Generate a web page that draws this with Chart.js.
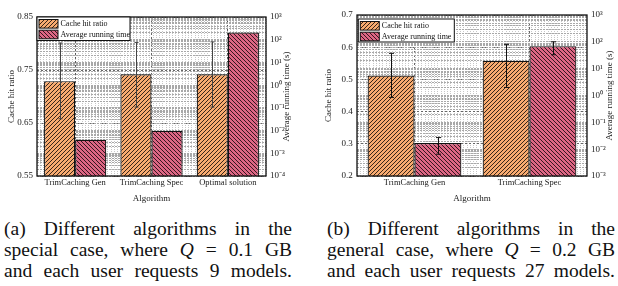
<!DOCTYPE html>
<html><head><meta charset="utf-8">
<script src="https://cdn.jsdelivr.net/npm/chart.js@4.4.1/dist/chart.umd.min.js"></script>
<style>
html,body{margin:0;padding:0;background:#fff;}
body{width:618px;height:286px;position:relative;overflow:hidden;font-family:'Liberation Serif',serif;}
canvas{position:absolute;top:0;}
#ca{left:0}
#cb{left:309px}
.cap{position:absolute;top:218px;width:288px;font-family:'Liberation Serif',serif;font-size:19.5px;line-height:21px;color:#111;}
.cap div{text-align:justify;text-align-last:justify;white-space:nowrap;}
#capA{left:4px}
#capB{left:327px}
</style>
</head><body>
<canvas id="ca" width="309" height="210"></canvas>
<canvas id="cb" width="309" height="210"></canvas>
<div class="cap" id="capA"><div>(a) Different algorithms in the</div><div>special case, where <i>Q</i> = 0.1 GB</div><div>and each user requests 9 models.</div></div>
<div class="cap" id="capB"><div>(b) Different algorithms in the</div><div>general case, where <i>Q</i> = 0.2 GB</div><div>and each user requests 27 models.</div></div>
<script>
// ---------- data ----------
const seriesLabels = ["Cache hit ratio", "Average running time"];
const xTitle = "Algorithm";
const leftTitle = "Cache hit ratio";
const rightTitle = "Average running time (s)";

const catsA = ["TrimCaching Gen", "TrimCaching Spec", "Optimal solution"];
const hitA = [0.729, 0.742, 0.742];
const hitLoA = [0.658, 0.680, 0.680];
const hitHiA = [0.801, 0.802, 0.803];
const timeA = [0.0039, 0.0097, 209];
const leftTicksA = [0.55, 0.65, 0.75, 0.85];
const logExpA = [-4, 3];

const catsB = ["TrimCaching Gen", "TrimCaching Spec"];
const hitB = [0.512, 0.558];
const hitLoB = [0.444, 0.475];
const hitHiB = [0.581, 0.609];
const timeB = [0.017, 69];
const timeLoB = [0.0065, 33];
const timeHiB = [0.027, 100];
const leftTicksB = [0.2, 0.3, 0.4, 0.5, 0.6, 0.7];
const logExpB = [-3, 3];

// ---------- helpers ----------
const SERIF = "'Liberation Serif', serif";
Chart.defaults.font.family = SERIF;
Chart.defaults.color = '#222';

function hatch(bg, fg, dir) {
  const c = document.createElement('canvas'); const s = 4; c.width = s; c.height = s;
  const x = c.getContext('2d'); x.fillStyle = bg; x.fillRect(0, 0, s, s);
  x.strokeStyle = fg; x.lineWidth = 0.95; x.beginPath();
  if (dir > 0) {
    x.moveTo(-1, s + 1); x.lineTo(s + 1, -1);
    x.moveTo(-1, 1); x.lineTo(1, -1);
    x.moveTo(s - 1, s + 1); x.lineTo(s + 1, s - 1);
  } else {
    x.moveTo(-1, -1); x.lineTo(s + 1, s + 1);
    x.moveTo(s - 1, -1); x.lineTo(s + 1, 1);
    x.moveTo(-1, s - 1); x.lineTo(1, s + 1);
  }
  x.stroke();
  return x.createPattern(c, 'repeat');
}
const patO = hatch('#f8ab70', '#2e1f14', 1);
const patP = hatch('#dd6684', '#2d1219', -1);

const SUP = {'-': '\u207B', '0': '\u2070', '1': '\u00B9', '2': '\u00B2', '3': '\u00B3', '4': '\u2074', '5': '\u2075', '6': '\u2076', '7': '\u2077', '8': '\u2078', '9': '\u2079'};
function logTicks(lo, hi) {
  const t = [];
  for (let e = lo; e < hi; e++) for (let k = 1; k <= 9; k++) t.push({value: Number((k * Math.pow(10, e)).toPrecision(3))});
  t.push({value: Math.pow(10, hi)});
  return t;
}
function logLabel(v) {
  const l = Math.log10(v); const r = Math.round(l);
  if (Math.abs(l - r) > 1e-6) return '';
  return '10' + String(r).split('').map(ch => SUP[ch]).join('');
}

const decor = {
  id: 'decor',
  afterDatasetsDraw(chart, args, o) {
    const ctx = chart.ctx; const a = chart.chartArea;
    ctx.save();
    (o.err || []).forEach(e => {
      const meta = chart.getDatasetMeta(e.ds);
      const ys = chart.scales[meta.yAxisID];
      ctx.strokeStyle = e.color; ctx.lineWidth = 1;
      meta.data.forEach((bar, i) => {
        const x = Math.round(bar.x) + 0.5;
        const y1 = ys.getPixelForValue(e.lo[i]); const y2 = ys.getPixelForValue(e.hi[i]);
        ctx.beginPath();
        ctx.moveTo(x, y1); ctx.lineTo(x, y2);
        ctx.moveTo(x - e.cap, y1); ctx.lineTo(x + e.cap, y1);
        ctx.moveTo(x - e.cap, y2); ctx.lineTo(x + e.cap, y2);
        ctx.stroke();
      });
    });
    ctx.strokeStyle = '#111'; ctx.lineWidth = 1.3;
    ctx.strokeRect(a.left, a.top, a.right - a.left, a.bottom - a.top);
    const L = o.legend;
    const bx = a.left + L.dx, by = a.top + L.dy;
    ctx.fillStyle = '#fff'; ctx.fillRect(bx, by, L.w, L.h);
    ctx.strokeStyle = '#111'; ctx.lineWidth = 1; ctx.strokeRect(bx, by, L.w, L.h);
    ctx.font = '8px ' + SERIF; ctx.textBaseline = 'middle'; ctx.textAlign = 'left';
    chart.data.datasets.forEach((d, i) => {
      const sy = by + 2.5 + i * 10.7;
      ctx.fillStyle = d.backgroundColor; ctx.fillRect(bx + 2, sy, 19, 8.6);
      ctx.strokeStyle = '#111'; ctx.lineWidth = 1; ctx.strokeRect(bx + 2, sy, 19, 8.6);
      ctx.fillStyle = '#111'; ctx.fillText(d.label, bx + 23.5, sy + 4.6);
    });
    ctx.save();
    ctx.translate(chart.width - o.rtOffset, (a.top + a.bottom) / 2);
    ctx.rotate(-Math.PI / 2);
    ctx.font = '9px ' + SERIF; ctx.textAlign = 'center'; ctx.textBaseline = 'middle'; ctx.fillStyle = '#222';
    ctx.fillText(rightTitle, 0, 0);
    ctx.restore();
    ctx.restore();
  }
};

function makeChart(id, cfg) {
  return new Chart(document.getElementById(id), {
    type: 'bar',
    data: {
      labels: cfg.cats,
      datasets: [
        {label: seriesLabels[0], data: cfg.hit, yAxisID: 'y', backgroundColor: patO, borderColor: '#111', borderWidth: 1.2, categoryPercentage: 0.815, barPercentage: 1},
        {label: seriesLabels[1], data: cfg.time, yAxisID: 'y2', backgroundColor: patP, borderColor: '#111', borderWidth: 1.2, categoryPercentage: 0.815, barPercentage: 1}
      ]
    },
    options: {
      responsive: false, animation: false, devicePixelRatio: 1,
      layout: {padding: {top: cfg.top, left: 0, right: 0, bottom: 0}},
      plugins: {legend: {display: false}, tooltip: {enabled: false},
        decor: {err: cfg.err, legend: cfg.legend, rtOffset: cfg.rtOffset}},
      scales: {
        x: {type: 'category', position: 'bottom',
          grid: {offset: false, color: '#666', drawTicks: false},
          border: {display: false, dash: [2, 2]},
          ticks: {padding: 2, font: {size: 8.5}, color: '#222', maxRotation: 0, autoSkip: false},
          title: {display: true, text: xTitle, font: {size: 9}, color: '#222', padding: {top: 0, bottom: 5.6}},
          afterFit: s => { s.height = 34; }},
        xm: {type: 'linear', position: 'bottom', min: 0, max: 70,
          afterBuildTicks: s => { const t = []; for (let i = 0; i <= 70; i++) t.push({value: i}); s.ticks = t; },
          ticks: {display: false}, grid: {color: 'rgba(0,0,0,0.22)', drawTicks: false},
          border: {display: false, dash: [1, 1]}, afterFit: s => { s.height = 0; }},
        y: {type: 'linear', position: 'left', min: cfg.ticksL[0], max: cfg.ticksL[cfg.ticksL.length - 1],
          afterBuildTicks: s => { s.ticks = cfg.ticksL.map(v => ({value: v})); },
          ticks: {padding: cfg.padL, font: {size: 9}, color: '#222', callback: v => String(v)},
          grid: {color: '#666', drawTicks: false}, border: {display: false, dash: [2, 2]},
          title: {display: true, text: leftTitle, font: {size: 9}, color: '#222', padding: {top: cfg.ltPad, bottom: 0}},
          afterFit: s => { s.width = cfg.wL; }},
        y2: {type: 'logarithmic', position: 'right', min: Math.pow(10, cfg.exp[0]), max: Math.pow(10, cfg.exp[1]),
          afterBuildTicks: s => { s.ticks = logTicks(cfg.exp[0], cfg.exp[1]); },
          ticks: {autoSkip: false, padding: 4, font: {size: 9}, color: '#222', callback: v => logLabel(v)},
          grid: {color: '#a8a8a8', drawTicks: false}, border: {display: false, dash: [2, 1]},
          afterFit: s => { s.width = cfg.wR; }}
      }
    },
    plugins: [decor]
  });
}

makeChart('ca', {
  cats: catsA, hit: hitA, time: timeA, ticksL: leftTicksA, exp: logExpA,
  top: 17, wL: 37, wR: 43, padL: 4, ltPad: 6.3, rtOffset: 22,
  err: [{ds: 0, lo: hitLoA, hi: hitHiA, color: '#444', cap: 2}],
  legend: {dx: 0, dy: 0, w: 93, h: 23.5}
});
makeChart('cb', {
  cats: catsB, hit: hitB, time: timeB, ticksL: leftTicksB, exp: logExpB,
  top: 15, wL: 48, wR: 31, padL: 4.3, ltPad: 13.9, rtOffset: 8,
  err: [{ds: 0, lo: hitLoB, hi: hitHiB, color: '#111', cap: 2.5}, {ds: 1, lo: timeLoB, hi: timeHiB, color: '#111', cap: 2.5}],
  legend: {dx: 1.3, dy: 4, w: 96, h: 23}
});
</script>
</body></html>
